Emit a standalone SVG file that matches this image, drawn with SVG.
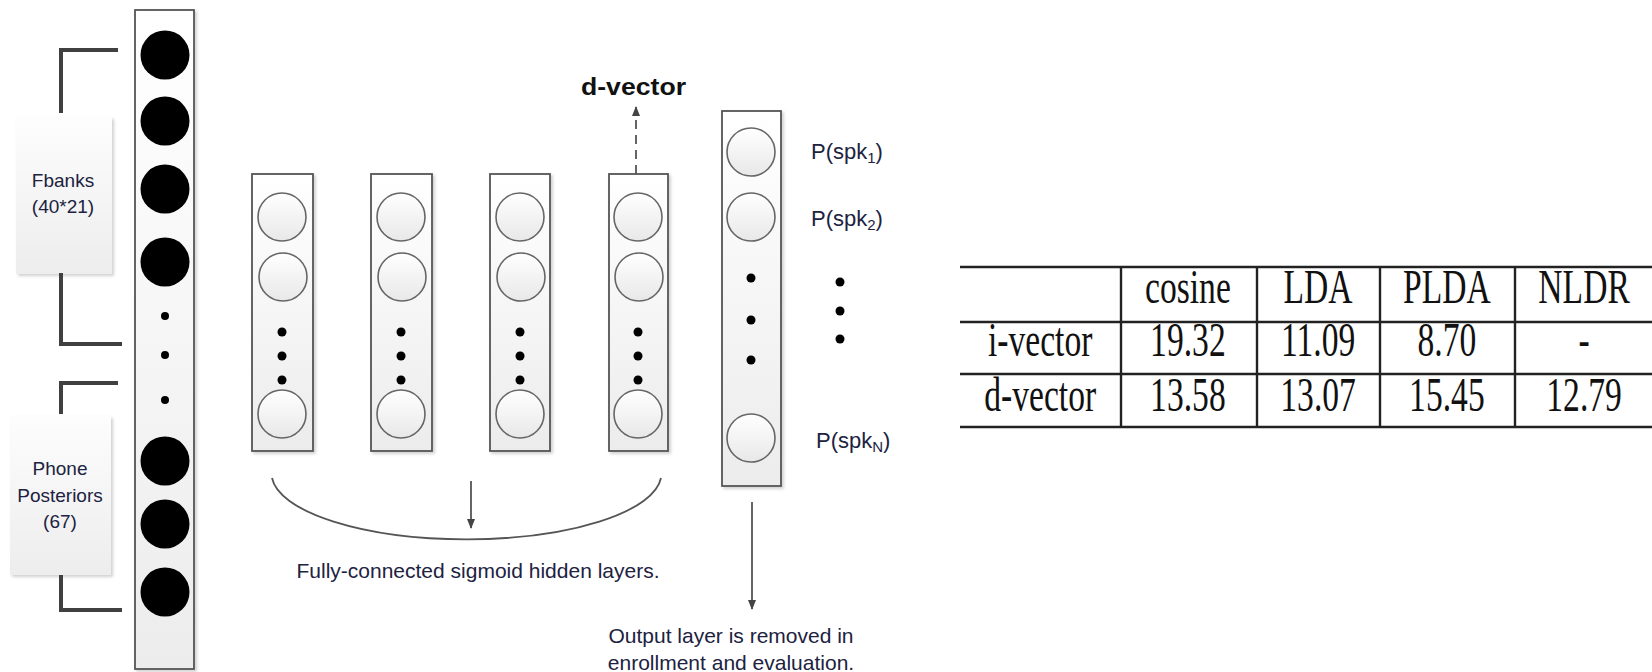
<svg xmlns="http://www.w3.org/2000/svg" width="1652" height="672" viewBox="0 0 1652 672">
<style>
.lbl{font-family:"Liberation Sans",Arial,sans-serif;fill:#20223f;}
.tbl{font-family:"Liberation Serif","Times New Roman",serif;font-size:48px;fill:#111;text-anchor:middle;}
.layer{stroke:#555;stroke-width:1.8;fill:url(#gcol);filter:url(#sh);}
.wc{stroke:#666;stroke-width:1.6;fill:url(#gcirc);}
.bc{fill:#000;}
.dot{fill:#000;}
.br{fill:none;stroke:#404040;stroke-width:4;}
.conn{stroke:#555;stroke-width:1.8;fill:none;}
.tl{stroke:#222;stroke-width:2.4;}
</style>
<defs>
<linearGradient id="gcol" x1="0" y1="0" x2="0" y2="1">
<stop offset="0" stop-color="#ffffff"/>
<stop offset="1" stop-color="#ececec"/>
</linearGradient>
<linearGradient id="gcirc" x1="0" y1="0" x2="0" y2="1">
<stop offset="0" stop-color="#ffffff"/>
<stop offset="1" stop-color="#e8e8e8"/>
</linearGradient>
<linearGradient id="gbox" x1="0" y1="0" x2="0" y2="1">
<stop offset="0" stop-color="#fdfdfd"/>
<stop offset="1" stop-color="#ededed"/>
</linearGradient>
<filter id="sh" x="-10%" y="-5%" width="130%" height="115%">
<feDropShadow dx="2" dy="2" stdDeviation="1.5" flood-color="#000" flood-opacity="0.18"/>
</filter>
<marker id="ah" viewBox="0 0 10 10" refX="9" refY="5" markerWidth="10" markerHeight="10" markerUnits="userSpaceOnUse" orient="auto">
<path d="M0,1 L10,5 L0,9 z" fill="#444"/>
</marker>
</defs>

<g id="fbanks-label">
<rect x="16" y="117" width="96" height="157" fill="url(#gbox)" filter="url(#sh)"/>
<text class="lbl" font-size="19" text-anchor="middle" x="63" y="187">Fbanks</text>
<text class="lbl" font-size="19" text-anchor="middle" x="63" y="213">(40*21)</text>
</g>
<g id="phone-label">
<rect x="10" y="416" width="101" height="159" fill="url(#gbox)" filter="url(#sh)"/>
<text class="lbl" font-size="19" text-anchor="middle" x="60" y="475">Phone</text>
<text class="lbl" font-size="19" text-anchor="middle" x="60" y="502">Posteriors</text>
<text class="lbl" font-size="19" text-anchor="middle" x="60" y="528">(67)</text>
</g>

<g id="input-layer">
<rect class="layer" x="135" y="10" width="59" height="659"/>
<circle class="bc" cx="165" cy="55" r="24.5"/>
<circle class="bc" cx="165" cy="121" r="24.5"/>
<circle class="bc" cx="165" cy="189" r="24.5"/>
<circle class="bc" cx="165" cy="262" r="24.5"/>
<circle class="dot" cx="165" cy="316" r="4"/>
<circle class="dot" cx="165" cy="355" r="4"/>
<circle class="dot" cx="165" cy="400" r="4"/>
<circle class="bc" cx="165" cy="461" r="24.5"/>
<circle class="bc" cx="165" cy="524" r="24.5"/>
<circle class="bc" cx="165" cy="592" r="24.5"/>
</g>

<g id="hidden1">
<rect class="layer" x="252" y="174" width="61" height="277"/>
<circle class="wc" cx="282" cy="217" r="24"/>
<circle class="wc" cx="283" cy="277" r="24"/>
<circle class="dot" cx="282" cy="332" r="4.5"/>
<circle class="dot" cx="282" cy="356" r="4.5"/>
<circle class="dot" cx="282" cy="380" r="4.5"/>
<circle class="wc" cx="282" cy="414" r="24"/>
</g>
<g id="hidden2">
<rect class="layer" x="371" y="174" width="61" height="277"/>
<circle class="wc" cx="401" cy="217" r="24"/>
<circle class="wc" cx="402" cy="277" r="24"/>
<circle class="dot" cx="401" cy="332" r="4.5"/>
<circle class="dot" cx="401" cy="356" r="4.5"/>
<circle class="dot" cx="401" cy="380" r="4.5"/>
<circle class="wc" cx="401" cy="414" r="24"/>
</g>
<g id="hidden3">
<rect class="layer" x="490" y="174" width="60" height="277"/>
<circle class="wc" cx="520" cy="217" r="24"/>
<circle class="wc" cx="521" cy="277" r="24"/>
<circle class="dot" cx="520" cy="332" r="4.5"/>
<circle class="dot" cx="520" cy="356" r="4.5"/>
<circle class="dot" cx="520" cy="380" r="4.5"/>
<circle class="wc" cx="520" cy="414" r="24"/>
</g>
<g id="hidden4">
<rect class="layer" x="609" y="174" width="59" height="277"/>
<circle class="wc" cx="638" cy="217" r="24"/>
<circle class="wc" cx="639" cy="277" r="24"/>
<circle class="dot" cx="638" cy="332" r="4.5"/>
<circle class="dot" cx="638" cy="356" r="4.5"/>
<circle class="dot" cx="638" cy="380" r="4.5"/>
<circle class="wc" cx="638" cy="414" r="24"/>
</g>

<g id="output-layer">
<rect class="layer" x="722" y="111" width="59" height="375"/>
<circle class="wc" cx="751" cy="152" r="24"/>
<circle class="wc" cx="751" cy="217" r="24"/>
<circle class="dot" cx="751" cy="278" r="4.5"/>
<circle class="dot" cx="751" cy="320" r="4.5"/>
<circle class="dot" cx="751" cy="360" r="4.5"/>
<circle class="wc" cx="751" cy="438" r="24"/>
</g>

<g id="output-labels">
<text class="lbl" font-size="22" x="811" y="159">P(spk<tspan font-size="15" dy="4">1</tspan><tspan dy="-4">)</tspan></text>
<text class="lbl" font-size="22" x="811" y="226">P(spk<tspan font-size="15" dy="4">2</tspan><tspan dy="-4">)</tspan></text>
<circle class="dot" cx="840" cy="282" r="4.5"/>
<circle class="dot" cx="840" cy="311" r="4.5"/>
<circle class="dot" cx="840" cy="339" r="4.5"/>
<text class="lbl" font-size="22" x="816" y="448">P(spk<tspan font-size="15" dy="4">N</tspan><tspan dy="-4">)</tspan></text>
</g>

<g id="dvector-label">
<text font-family="'Liberation Sans',Arial,sans-serif" font-weight="bold" font-size="24" fill="#111" x="581" y="95" textLength="105" lengthAdjust="spacingAndGlyphs">d-vector</text>
</g>

<g id="captions">
<text class="lbl" font-size="21" text-anchor="middle" x="478" y="578">Fully-connected sigmoid hidden layers.</text>
<text class="lbl" font-size="21" text-anchor="middle" x="731" y="643">Output layer is removed in</text>
<text class="lbl" font-size="21" text-anchor="middle" x="731" y="670">enrollment and evaluation.</text>
</g>

<g id="connectors">
<path class="br" d="M118 50 H61 V113"/>
<path class="br" d="M61 273 V344 H122"/>
<path class="br" d="M118 383 H61 V414"/>
<path class="br" d="M61 575 V610 H122"/>
<path class="conn" d="M636 174 V107" stroke-dasharray="9 6" marker-end="url(#ah)"/>
<path class="conn" d="M272 478 A195 66 0 0 0 661 478"/>
<path class="conn" d="M471 481 V528" marker-end="url(#ah)"/>
<path class="conn" d="M752 502 V609" marker-end="url(#ah)"/>
</g>

<g id="results-table">
<line class="tl" x1="960" y1="267" x2="1652" y2="267"/>
<line class="tl" x1="960" y1="322" x2="1652" y2="322"/>
<line class="tl" x1="960" y1="374" x2="1652" y2="374"/>
<line class="tl" x1="960" y1="427" x2="1652" y2="427"/>
<line class="tl" x1="1121" y1="267" x2="1121" y2="427"/>
<line class="tl" x1="1257" y1="267" x2="1257" y2="427"/>
<line class="tl" x1="1380" y1="267" x2="1380" y2="427"/>
<line class="tl" x1="1515" y1="267" x2="1515" y2="427"/>
<g transform="scale(0.7 1)">
<text class="tbl" x="1697" y="303">cosine</text>
<text class="tbl" x="1883" y="303">LDA</text>
<text class="tbl" x="2067" y="303">PLDA</text>
<text class="tbl" x="2263" y="303">NLDR</text>
<text class="tbl" x="1486" y="356">i-vector</text>
<text class="tbl" x="1697" y="356">19.32</text>
<text class="tbl" x="1883" y="356">11.09</text>
<text class="tbl" x="2067" y="356">8.70</text>
<text class="tbl" x="2263" y="356">-</text>
<text class="tbl" x="1486" y="411">d-vector</text>
<text class="tbl" x="1697" y="411">13.58</text>
<text class="tbl" x="1883" y="411">13.07</text>
<text class="tbl" x="2067" y="411">15.45</text>
<text class="tbl" x="2263" y="411">12.79</text>
</g>
</g>
</svg>
